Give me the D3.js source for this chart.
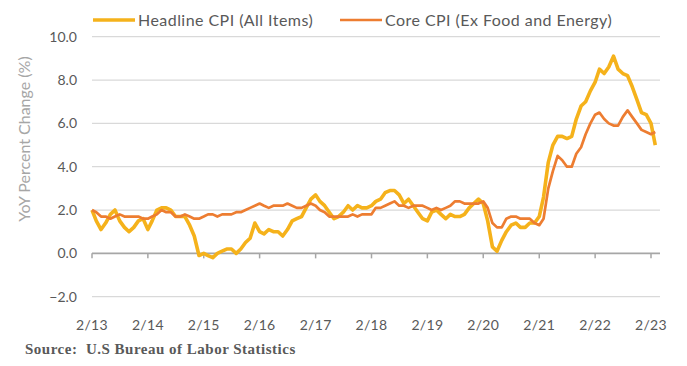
<!DOCTYPE html>
<html>
<head>
<meta charset="utf-8">
<script src="https://cdn.jsdelivr.net/npm/d3@7.9.0/dist/d3.min.js"></script>
<style>
  body { margin: 0; background: #fff; }
  svg { display: block; }
</style>
</head>
<body>
<div id="chart"></div>
<script>
// monthly YoY %, Feb 2013 .. Mar 2023
const startMonth = '2013-02';
const headline = [
  2.0, 1.5, 1.1, 1.4, 1.8, 2.0, 1.5, 1.2, 1.0, 1.2, 1.5,           // 2013
  1.6, 1.1, 1.5, 2.0, 2.1, 2.1, 2.0, 1.7, 1.7, 1.7, 1.3, 0.8,      // 2014
  -0.1, 0.0, -0.1, -0.2, 0.0, 0.1, 0.2, 0.2, 0.0, 0.2, 0.5, 0.7,   // 2015
  1.4, 1.0, 0.9, 1.1, 1.0, 1.0, 0.8, 1.1, 1.5, 1.6, 1.7, 2.1,      // 2016
  2.5, 2.7, 2.4, 2.2, 1.9, 1.6, 1.7, 1.9, 2.2, 2.0, 2.2, 2.1,      // 2017
  2.1, 2.2, 2.4, 2.5, 2.8, 2.9, 2.9, 2.7, 2.3, 2.5, 2.2, 1.9,      // 2018
  1.6, 1.5, 1.9, 2.0, 1.8, 1.6, 1.8, 1.7, 1.7, 1.8, 2.1, 2.3,      // 2019
  2.5, 2.3, 1.5, 0.3, 0.1, 0.6, 1.0, 1.3, 1.4, 1.2, 1.2, 1.4,      // 2020
  1.4, 1.7, 2.6, 4.2, 5.0, 5.4, 5.4, 5.3, 5.4, 6.2, 6.8, 7.0,      // 2021
  7.5, 7.9, 8.5, 8.3, 8.6, 9.1, 8.5, 8.3, 8.2, 7.7, 7.1, 6.5,      // 2022
  6.4, 6.0, 5.0                                                   // 2023
];
const core = [
  2.0, 1.9, 1.7, 1.7, 1.6, 1.7, 1.8, 1.7, 1.7, 1.7, 1.7,
  1.6, 1.6, 1.7, 1.8, 2.0, 1.9, 1.9, 1.7, 1.7, 1.8, 1.7, 1.6,
  1.6, 1.7, 1.8, 1.8, 1.7, 1.8, 1.8, 1.8, 1.9, 1.9, 2.0, 2.1,
  2.2, 2.3, 2.2, 2.1, 2.2, 2.2, 2.2, 2.3, 2.2, 2.1, 2.1, 2.2,
  2.3, 2.2, 2.0, 1.9, 1.7, 1.7, 1.7, 1.7, 1.7, 1.8, 1.7, 1.8,
  1.8, 1.8, 2.1, 2.1, 2.2, 2.3, 2.4, 2.2, 2.2, 2.1, 2.2, 2.2,
  2.2, 2.1, 2.0, 2.1, 2.0, 2.1, 2.2, 2.4, 2.4, 2.3, 2.3, 2.3,
  2.3, 2.4, 2.1, 1.4, 1.2, 1.2, 1.6, 1.7, 1.7, 1.6, 1.6, 1.6,
  1.4, 1.3, 1.6, 3.0, 3.8, 4.5, 4.3, 4.0, 4.0, 4.6, 4.9, 5.5,
  6.0, 6.4, 6.5, 6.2, 6.0, 5.9, 5.9, 6.3, 6.6, 6.3, 6.0, 5.7,
  5.6, 5.5, 5.6
];
const seriesNames = ['Headline CPI (All Items)', 'Core CPI (Ex Food and Energy)'];
const seriesColors = ['#F5B21B', '#ED7D31'];
const yTicks = [-2, 0, 2, 4, 6, 8, 10];
const xTickYears = d3.range(2013, 2024);
const yTitle = 'YoY Percent Change (%)';
const sourceText = 'Source:  U.S Bureau of Labor Statistics';

const W = 687, H = 366;
const parse = d3.timeParse('%Y-%m');
const t0 = parse(startMonth);
const dates = headline.map((_, i) => d3.timeMonth.offset(t0, i));

const svg = d3.select('#chart').append('svg')
  .attr('width', W).attr('height', H);

const x = d3.scaleTime()
  .domain([new Date(2013, 1, 1), new Date(2023, 1, 1)])
  .range([92, 651]);
const y = d3.scaleLinear().domain([-2, 10]).range([296.7, 36.7]);

const sans = 'Lato, "Open Sans", sans-serif';

// gridlines
svg.append('g').selectAll('line')
  .data(yTicks.filter(d => d !== 0))
  .join('line')
  .attr('x1', 92).attr('x2', 660)
  .attr('y1', d => y(d)).attr('y2', d => y(d))
  .attr('stroke', '#d9d9d9').attr('stroke-width', 1.3);

// y labels
svg.append('g').selectAll('text')
  .data(yTicks)
  .join('text')
  .attr('x', 77).attr('y', d => y(d) + 5)
  .attr('text-anchor', 'end')
  .attr('font-family', sans).attr('font-size', 14)
  .attr('fill', '#595959')
  .text(d => d3.format('.1f')(d));

// zero axis with ticks
const xTickDates = xTickYears.map(yr => new Date(yr, 1, 1));
svg.append('line')
  .attr('x1', 92).attr('x2', 660)
  .attr('y1', y(0)).attr('y2', y(0))
  .attr('stroke', '#a6a6a6').attr('stroke-width', 1.8);
svg.append('g').selectAll('line')
  .data(xTickDates)
  .join('line')
  .attr('x1', d => x(d)).attr('x2', d => x(d))
  .attr('y1', y(0)).attr('y2', y(0) + 5)
  .attr('stroke', '#a6a6a6').attr('stroke-width', 1.5);

// x labels
svg.append('g').selectAll('text')
  .data(xTickDates)
  .join('text')
  .attr('x', d => x(d)).attr('y', 330)
  .attr('text-anchor', 'middle')
  .attr('font-family', sans).attr('font-size', 14)
  .attr('letter-spacing', 0.3)
  .attr('fill', '#595959')
  .text(d => d3.timeFormat('%-m/%y')(d));

// y title
svg.append('text')
  .attr('transform', 'translate(30,139) rotate(-90)')
  .attr('text-anchor', 'middle')
  .attr('font-family', sans).attr('font-size', 16)
  .attr('fill', '#a6a6a6')
  .text(yTitle);

// lines
const line = d3.line()
  .x((d, i) => x(dates[i]))
  .y(d => y(d));

svg.append('path')
  .datum(headline)
  .attr('d', line)
  .attr('fill', 'none')
  .attr('stroke', seriesColors[0])
  .attr('stroke-width', 3.6)
  .attr('stroke-linejoin', 'round');

svg.append('path')
  .datum(core)
  .attr('d', line)
  .attr('fill', 'none')
  .attr('stroke', seriesColors[1])
  .attr('stroke-width', 2.7)
  .attr('stroke-linejoin', 'round');

// legend
const legX = [93, 340];
const leg = svg.append('g').selectAll('g')
  .data(seriesNames)
  .join('g')
  .attr('transform', (d, i) => `translate(${legX[i]},20)`);
leg.append('line')
  .attr('x1', 0).attr('x2', 42)
  .attr('stroke', (d, i) => seriesColors[i])
  .attr('stroke-width', (d, i) => i === 0 ? 3.6 : 2.7);
leg.append('text')
  .attr('x', 45).attr('y', 5.5)
  .attr('font-family', sans).attr('font-size', 16)
  .attr('letter-spacing', 0.45)
  .attr('fill', '#595959')
  .text(d => d);

// source
svg.append('text')
  .attr('x', 25).attr('y', 354)
  .attr('font-family', '"Liberation Serif", "Times New Roman", serif')
  .attr('font-weight', 'bold')
  .attr('font-size', 15)
  .attr('letter-spacing', 0.5)
  .attr('fill', '#595959')
  .style('white-space', 'pre')
  .text(sourceText);
</script>
</body>
</html>
